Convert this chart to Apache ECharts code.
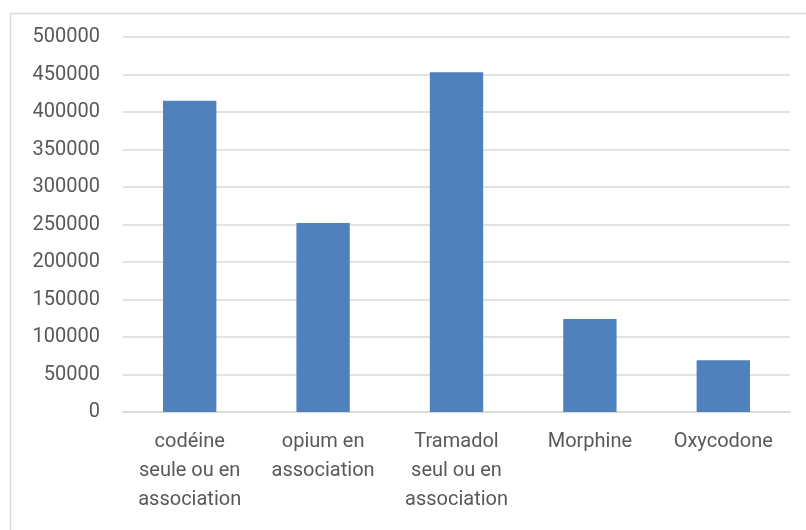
<!DOCTYPE html>
<html>
<head>
<meta charset="utf-8">
<script src="https://cdn.jsdelivr.net/npm/echarts@6/dist/echarts.min.js"></script>
<style>
  html, body { margin: 0; padding: 0; background: #fff; }
  #main { width: 806px; height: 530px; }
</style>
</head>
<body>
<div id="main"></div>
<script>
// categories as they wrap in the picture
var categories = ['codéine\nseule ou en\nassociation', 'opium en\nassociation', 'Tramadol\nseul ou en\nassociation', 'Morphine', 'Oxycodone'];
var values = [415000, 252000, 453000, 124000, 69000];

var chart = echarts.init(document.getElementById('main'));

var option = {
    animation: false,
    backgroundColor: '#fff',
    textStyle: { fontFamily: 'Roboto' },
    graphic: [{
        type: 'rect',
        shape: { x: 10.5, y: 13.5, width: 800, height: 530 },
        style: { fill: 'none', stroke: '#D9D9D9', lineWidth: 1.5 },
        silent: true
    }],
    grid: { left: 123, right: 16, top: 37, bottom: 118, containLabel: false },
    xAxis: {
        type: 'category',
        data: categories,
        axisLine: { lineStyle: { color: '#D9D9D9', width: 1.5 } },
        axisTick: { show: false },
        axisLabel: {
            color: '#595959',
            fontSize: 20,
            lineHeight: 29,
            margin: 15,
            interval: 0
        }
    },
    yAxis: {
        type: 'value',
        min: 0,
        max: 500000,
        interval: 50000,
        axisLine: { show: false },
        axisTick: { show: false },
        splitLine: { lineStyle: { color: '#D9D9D9', width: 1.5 } },
        axisLabel: {
            color: '#595959',
            fontSize: 20,
            margin: 23,
            formatter: function (v) { return String(v); }
        }
    },
    series: [{
        type: 'bar',
        data: values,
        barCategoryGap: '60%',
        itemStyle: { color: '#4F81BD' }
    }]
};

chart.setOption(option);
</script>
</body>
</html>
